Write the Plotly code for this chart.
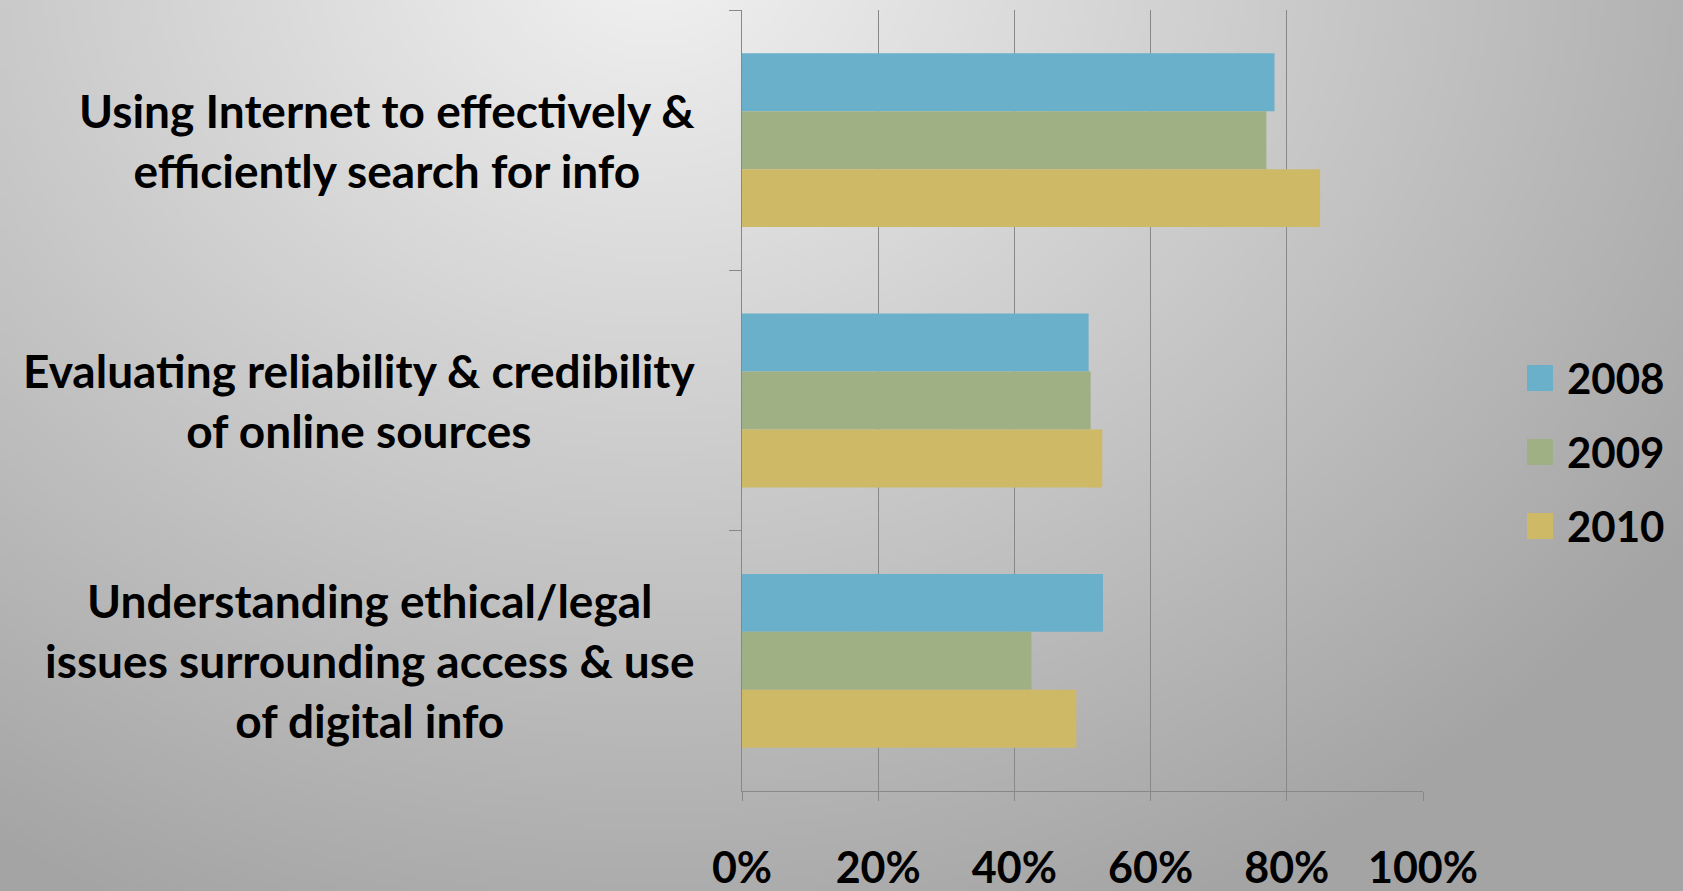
import base64
import struct
import zlib

import numpy as np
import plotly.graph_objects as go

# ---- data -------------------------------------------------------------
categories = [
    "Using Internet to effectively &<br>efficiently search for info",
    "Evaluating reliability & credibility<br>of online sources",
    "Understanding ethical/legal<br>issues surrounding access & use<br>of digital info",
]
years = ["2008", "2009", "2010"]
values_2008 = [78.2, 50.9, 53.0]
values_2009 = [77.0, 51.2, 42.5]
values_2010 = [84.9, 52.9, 49.1]
tick_values = [0, 20, 40, 60, 80, 100]
tick_labels = ["0%", "20%", "40%", "60%", "80%", "100%"]

series = [values_2008, values_2009, values_2010]
colors = ["#6AB0CA", "#9EB084", "#CEB967"]

# ---- page geometry ----------------------------------------------------
W, H = 1683, 891
M_L, M_R, M_T, M_B = 742, 260, 10, 100
plot_w = W - M_L - M_R
plot_h = H - M_T - M_B
FONT = "Lato"


def to_paper(px, py):
    return (px - M_L) / plot_w, (H - M_B - py) / plot_h


# ---- soft grey background gradient as a PNG ----------------------------
def gradient_png(w, h):
    ys, xs = np.mgrid[0:h, 0:w].astype(float)
    sx, sy = W / w, H / h
    d = np.sqrt(((xs * sx - 650) / 1200) ** 2 + ((ys * sy + 50) / 1000) ** 2)
    v = 242 - 74 * np.clip(d, 0, 1.05)
    img = np.clip(v, 0, 255).astype(np.uint8)
    raw = b"".join(b"\x00" + img[r].tobytes() for r in range(h))

    def chunk(tag, data):
        c = struct.pack(">I", len(data)) + tag + data
        return c + struct.pack(">I", zlib.crc32(tag + data) & 0xFFFFFFFF)

    png = b"\x89PNG\r\n\x1a\n"
    png += chunk(b"IHDR", struct.pack(">IIBBBBB", w, h, 8, 0, 0, 0, 0))
    png += chunk(b"IDAT", zlib.compress(raw, 9))
    png += chunk(b"IEND", b"")
    return "data:image/png;base64," + base64.b64encode(png).decode()


fig = go.Figure()
for name, vals, col in zip(years, series, colors):
    fig.add_trace(go.Bar(
        y=categories, x=vals, name=name, orientation="h",
        marker=dict(color=col, line=dict(width=0)),
        showlegend=False,
    ))

grid = "#888888"
fig.update_layout(
    width=W, height=H,
    margin=dict(l=M_L, r=M_R, t=M_T, b=M_B, autoexpand=False),
    paper_bgcolor="#c4c4c4",
    plot_bgcolor="rgba(0,0,0,0)",
    barmode="group", bargap=0.332, bargroupgap=0,
    font=dict(family=FONT, color="black"),
    xaxis=dict(
        range=[0, 100], tickvals=tick_values, ticktext=tick_labels,
        showgrid=True, gridcolor=grid, gridwidth=1,
        showline=True, linecolor=grid, linewidth=1,
        ticks="outside", ticklen=9, tickcolor=grid,
        tickfont=dict(family=FONT, size=43, color="black", weight="bold"),
        ticklabelstandoff=30, zeroline=False, automargin=False,
    ),
    yaxis=dict(
        type="category", autorange="reversed",
        showgrid=False, showline=True, linecolor=grid, linewidth=1,
        ticks="outside", ticklen=12, tickcolor=grid, tickson="boundaries",
        showticklabels=False, automargin=False,
    ),
)

# category labels, centred line by line, to the left of the axis
for cat in categories:
    fig.add_annotation(
        x=0, xref="paper", y=cat, yref="y", xshift=-45,
        xanchor="right", yanchor="middle", align="center",
        text=cat, showarrow=False,
        font=dict(family=FONT, size=46, color="black", weight="bold"),
    )

# legend: coloured squares with year labels
legend_y = [378, 452, 526]
for name, col, py in zip(years, colors, legend_y):
    x0, y0 = to_paper(1527, py + 13)
    x1, y1 = to_paper(1553, py - 13)
    fig.add_shape(type="rect", xref="paper", yref="paper",
                  x0=x0, x1=x1, y0=y0, y1=y1,
                  fillcolor=col, line=dict(width=0))
    tx, ty = to_paper(1565, py)
    fig.add_annotation(
        x=tx, y=ty, xref="paper", yref="paper",
        xanchor="left", yanchor="middle", text=name, showarrow=False,
        font=dict(family=FONT, size=42, color="black", weight="bold"),
    )

bx, by = to_paper(0, 0)
fig.add_layout_image(
    source=gradient_png(337, 179), xref="paper", yref="paper",
    x=bx, y=by, sizex=W / plot_w, sizey=H / plot_h,
    xanchor="left", yanchor="top", sizing="stretch", layer="below",
)

fig.write_html("out.html")
